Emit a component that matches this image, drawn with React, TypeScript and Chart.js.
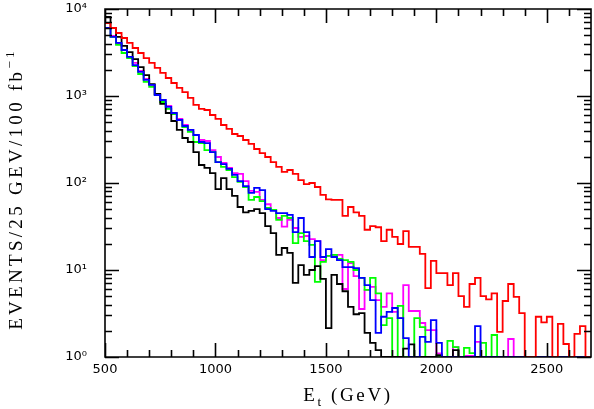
import React, { useEffect, useRef } from 'react';
import { Chart, registerables } from 'chart.js';

Chart.register(...registerables);

// Histogram binning (GeV)
const binStart = 500;
const binWidth = 25;

// Axis range and ticks
const xMin = 500;
const xMax = 2700;
const yMin = 1;
const yMax = 10000;
const xMajorTicks = [500, 1000, 1500, 2000, 2500];
const xMinorTicks = [600, 700, 800, 900, 1100, 1200, 1300, 1400, 1600, 1700, 1800, 1900, 2100, 2200, 2300, 2400, 2600];
const yMajorTicks = [1, 10, 100, 1000, 10000];
const yMinorTicks = [2, 3, 4, 5, 6, 7, 8, 9, 20, 30, 40, 50, 60, 70, 80, 90, 200, 300, 400, 500, 600, 700, 800, 900, 2000, 3000, 4000, 5000, 6000, 7000, 8000, 9000];
const superscripts = ['\u2070', '\u00B9', '\u00B2', '\u00B3', '\u2074'];

// Events per 25 GeV bin, starting at 500 GeV
const redValues = [
  6900, 6050, 5300, 4640, 4070, 3560, 3120, 2730, 2400, 2100,
  1840, 1610, 1410, 1240, 1110, 950, 790, 710, 690, 605,
  545, 464, 418, 366, 347, 312, 281, 246, 221, 199,
  174, 153, 134, 141, 127, 108, 97, 100, 90, 73,
  65, 64, 64, 42, 53, 46, 42, 29, 32, 31,
  21.5, 29, 24, 19.9, 28, 18.4, 18.4, 15.3, 6.2, 12.7,
  9.2, 9.2, 6.7, 9.2, 5.0, 3.76, 6.9, 8.1, 5.0, 4.6,
  5.4, 1.94, 4.4, 6.9, 4.9, 3.2, 0, 0, 2.9, 2.5,
  2.9, 0, 2.4, 1.41, 0, 1.84, 2.27, 0,
];

const blackValues = [
  8090, 6050, 4770, 3760, 3200, 2660, 2150, 1740, 1370, 1055,
  810, 638, 516, 407, 329, 296, 227, 161, 149, 130,
  85, 114, 85, 71, 53, 46, 47.7, 50, 45, 32,
  26.6, 14.9, 17.9, 15.7, 7.1, 11.4, 8.8, 10, 11.1, 7.9,
  2.15, 8.8, 6.9, 5.7, 3.76, 3.1, 3.2, 1.89, 1.45, 1.2,
  0, 0, 0, 0, 1.25, 1.4, 0, 0, 0, 0,
  1.05, 0, 0, 1.2, 0, 0, 0, 0, 0, 0,
  0, 0, 0, 0, 0, 0, 0, 0, 0, 0,
  0, 0, 0, 0, 0, 0, 0, 0,
];

const blueValues = [
  6050, 4770, 4070, 3380, 2810, 2270, 1890, 1530, 1340, 1027,
  900, 748, 638, 530, 452, 407, 356, 296, 288, 227,
  174, 165, 145, 124, 105, 92, 77, 88, 83, 50,
  47.7, 45, 45, 43, 27.3, 39.6, 27.3, 14.1, 21.5, 14.1,
  17.4, 14.1, 13.0, 10.8, 10.8, 10.5, 8.1, 6.7, 4.5, 1.89,
  2.9, 3.3, 3.66, 2.8, 1.65, 0, 0, 1.7, 1.49, 2.66,
  1.45, 0, 0, 0, 0, 0, 0, 2.27, 0, 0,
  0, 0, 0, 0, 0, 0, 0, 0, 0, 0,
  0, 0, 0, 0, 0, 0, 0, 0,
];

const greenValues = [
  6050, 4770, 3860, 3120, 2730, 2210, 1790, 1450, 1270, 1027,
  853, 710, 621, 530, 440, 386, 296, 288, 239, 227,
  174, 153, 141, 117, 103, 90, 64, 69, 62, 51.6,
  49, 37.6, 42, 39.6, 20.4, 26.6, 21.5, 19.4, 7.3, 12.4,
  14.5, 14.9, 13.4, 13.0, 12.4, 10, 8.1, 5.9, 8.1, 5.4,
  2.33, 2.8, 0, 3.86, 0, 0, 2.8, 2.21, 0, 0,
  0, 0, 1.53, 1.3, 0, 1.27, 1.11, 0, 1.45, 0,
  1.79, 0, 0, 0, 0, 0, 0, 0, 0, 0,
  0, 0, 0, 0, 0, 0, 0, 0,
];

const magentaValues = [
  6050, 4900, 3960, 3380, 2810, 2400, 1940, 1570, 1340, 1055,
  900, 767, 638, 545, 464, 407, 356, 312, 304, 239,
  199, 170, 149, 130, 127, 105, 81, 79, 64, 57,
  49, 39.6, 31.5, 37.6, 30.4, 24, 24.6, 22.7, 21.5, 13.0,
  14.5, 14.9, 14.9, 6.05, 12.0, 8.5, 3.56, 5.9, 6.4, 4.5,
  3.76, 5.4, 3.3, 2.8, 6.7, 3.38, 3.38, 2.46, 2.04, 2.04,
  1.1, 0, 0, 1.3, 0, 1.03, 1.03, 1.49, 0, 0,
  0, 0, 0, 1.61, 0, 0, 0, 0, 0, 0,
  0, 0, 0, 0, 0, 0, 0, 0,
];

// Empty bins sit on the floor of the log axis
function toSteps(values: number[]) {
  const pts = values.map((v, i) => ({ x: binStart + i * binWidth, y: v > 0 ? v : yMin }));
  const last = values[values.length - 1];
  pts.push({ x: binStart + values.length * binWidth, y: last > 0 ? last : yMin });
  return pts;
}

function drawSpaced(ctx: CanvasRenderingContext2D, text: string, x: number, y: number, spacing: number, draw: boolean) {
  let cx = x;
  for (const ch of text) {
    if (draw) ctx.fillText(ch, cx, y);
    cx += ctx.measureText(ch).width + spacing;
  }
  return cx - x;
}

type Part = { t: string; font: string; dy: number };

function drawParts(ctx: CanvasRenderingContext2D, parts: Part[], cx: number, baseY: number, spacing: number) {
  let total = 0;
  for (const p of parts) {
    ctx.font = p.font;
    total += drawSpaced(ctx, p.t, 0, 0, spacing, false);
  }
  let x = cx - total / 2;
  for (const p of parts) {
    ctx.font = p.font;
    x += drawSpaced(ctx, p.t, x, baseY + p.dy, spacing, true);
  }
}

const framePlugin = {
  id: 'frameTicks',
  afterDatasetsDraw(chart: any) {
    const { ctx, chartArea } = chart;
    const { left, right, top, bottom } = chartArea;
    const xs = chart.scales.x;
    const ys = chart.scales.y;
    ctx.save();
    ctx.strokeStyle = '#000';
    ctx.lineWidth = 1.6;
    ctx.beginPath();
    ctx.rect(left, top, right - left, bottom - top);
    const xTick = (v: number, len: number) => {
      const px = Math.round(xs.getPixelForValue(v)) + 0.5;
      ctx.moveTo(px, bottom);
      ctx.lineTo(px, bottom - len);
      ctx.moveTo(px, top);
      ctx.lineTo(px, top + len);
    };
    const yTick = (v: number, len: number) => {
      const py = Math.round(ys.getPixelForValue(v)) + 0.5;
      ctx.moveTo(left, py);
      ctx.lineTo(left + len, py);
      ctx.moveTo(right, py);
      ctx.lineTo(right - len, py);
    };
    xMajorTicks.forEach((v) => xTick(v, 14));
    xMinorTicks.forEach((v) => xTick(v, 7));
    yMajorTicks.forEach((v) => yTick(v, 14));
    yMinorTicks.forEach((v) => yTick(v, 7));
    ctx.stroke();
    ctx.restore();
  },
  afterDraw(chart: any) {
    const { ctx, chartArea } = chart;
    const big = '19px "Liberation Serif", "DejaVu Serif", serif';
    const small = '13px "Liberation Serif", "DejaVu Serif", serif';
    ctx.save();
    ctx.fillStyle = '#000';
    ctx.textBaseline = 'alphabetic';
    ctx.textAlign = 'left';
    drawParts(ctx, [
      { t: 'E', font: big, dy: 0 },
      { t: 't', font: small, dy: 5 },
      { t: ' (GeV)', font: big, dy: 0 },
    ], (chartArea.left + chartArea.right) / 2, 401, 2.6);
    ctx.translate(22, 189);
    ctx.rotate(-Math.PI / 2);
    drawParts(ctx, [
      { t: 'EVENTS/25 GEV/100 fb', font: big, dy: 0 },
      { t: '\u22121', font: small, dy: -8 },
    ], 0, 0, 3.3);
    ctx.restore();
  },
};

export default function App() {
  const canvasRef = useRef<HTMLCanvasElement | null>(null);

  useEffect(() => {
    if (!canvasRef.current) return;
    const mk = (data: number[], color: string) => ({
      data: toSteps(data),
      borderColor: color,
      backgroundColor: color,
      borderWidth: 1.8,
      stepped: true as const,
      pointRadius: 0,
      fill: false,
    });
    const chart = new Chart(canvasRef.current, {
      type: 'line',
      data: {
        datasets: [
          mk(redValues, '#ff0000'),
          mk(blueValues, '#0000ff'),
          mk(blackValues, '#000000'),
          mk(greenValues, '#00ff00'),
          mk(magentaValues, '#ff00ff'),
        ],
      },
      options: {
        animation: false,
        responsive: false,
        maintainAspectRatio: false,
        devicePixelRatio: 1,
        layout: { padding: { left: 0, right: 3, top: 9, bottom: 0 } },
        plugins: { legend: { display: false }, tooltip: { enabled: false }, title: { display: false } },
        scales: {
          x: {
            type: 'linear',
            min: xMin,
            max: xMax,
            grid: { display: false, drawTicks: false },
            border: { display: false },
            afterBuildTicks: (s: any) => {
              s.ticks = xMajorTicks.map((v) => ({ value: v }));
            },
            afterFit: (s: any) => {
              s.height = 52;
              s.paddingLeft = 0;
              s.paddingRight = 0;
            },
            ticks: {
              autoSkip: false,
              maxRotation: 0,
              padding: 5,
              color: '#000',
              font: { family: '"DejaVu Sans"', size: 13 },
              callback: (v: any) => String(v),
            },
          },
          y: {
            type: 'logarithmic',
            min: yMin,
            max: yMax,
            grid: { display: false, drawTicks: false },
            border: { display: false },
            afterBuildTicks: (s: any) => {
              s.ticks = yMajorTicks.map((v) => ({ value: v, major: true }));
            },
            afterFit: (s: any) => {
              s.width = 105;
              s.paddingTop = 0;
              s.paddingBottom = 0;
            },
            ticks: {
              autoSkip: false,
              padding: 18,
              color: '#000',
              font: { family: '"DejaVu Sans"', size: 13 },
              callback: (v: any) => '10' + superscripts[Math.round(Math.log10(Number(v)))],
            },
          },
        },
      },
      plugins: [framePlugin],
    } as any);
    return () => chart.destroy();
  }, []);

  return (
    <div style={{ position: 'fixed', left: 0, top: 0, width: 594, height: 409, background: '#fff' }}>
      <canvas ref={canvasRef} width={594} height={409} style={{ display: 'block' }} />
    </div>
  );
}
